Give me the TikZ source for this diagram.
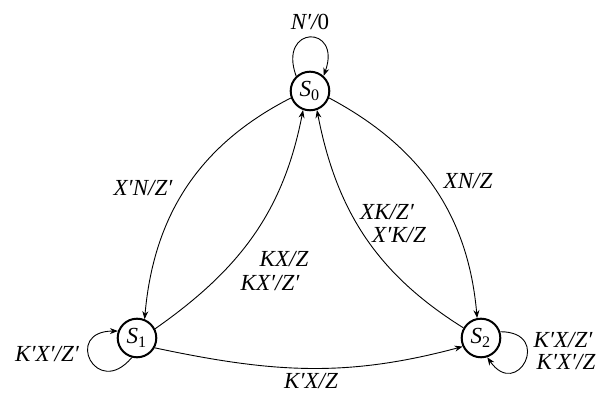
\documentclass[tikz,border=0pt]{standalone}
\usepackage{fontspec}
\setmainfont{Liberation Serif}
\usetikzlibrary{arrows.meta}

\begin{document}
\begin{tikzpicture}[x=0.5pt,y=-0.5pt,
                    font=\fontsize{11.5}{13}\selectfont\itshape,
                    fsm/.style={draw,circle,line width=1pt,minimum size=19.3pt,inner sep=0pt},
                    move/.style={-{Stealth[length=4pt,width=3pt]},line width=0.45pt},
                    lbl/.style={inner sep=0pt}]
  \useasboundingbox (0,0) rectangle (600,394);
  \node[fsm] (s0) at (310,91) {S\textsubscript{\upshape 0}};
  \node[fsm] (s1) at (137,338) {S\textsubscript{\upshape 1}};
  \node[fsm] (s2) at (481,338) {S\textsubscript{\upshape 2}};
  % transitions between the three states
  \draw[move] (s0.200) to[out=207,in=85] (s1.68);
  \draw[move] (s1.27) to[out=35,in=259] (s0.250);
  \draw[move] (s2.150) to[out=148,in=281] (s0.290);
  \draw[move] (s0.-20) to[out=-28,in=95] (s2.101);
  \draw[move] (s1.-29) to[out=-12,in=195] (s2.205);
  % self loops
  \draw[move] (s0.133) to[out=110,in=70,looseness=5.1] (s0.48);
  \draw[move] (s1.255) to[out=230,in=180,looseness=4.7] (s1.160);
  \draw[move] (s2.18) to[out=0,in=305,looseness=4.7] (s2.288);
  % labels
  \node[lbl] (l00) at (310,22) {N′/{\upshape 0}};
  \node[lbl] (l01) at (143,188) {X′N/Z′};
  \node[lbl] (l10a) at (284,259) {KX/Z};
  \node[lbl] (l10b) at (270,283) {KX′/Z′};
  \node[lbl] (l20a) at (387,212) {XK/Z′};
  \node[lbl] (l20b) at (399,235) {X′K/Z};
  \node[lbl] (l02) at (468,181) {XN/Z};
  \node[lbl] (l12) at (311,381) {K′X/Z};
  \node[lbl] (l11) at (47,354) {K′X′/Z′};
  \node[lbl] (l22a) at (563,340) {K′X/Z′};
  \node[lbl] (l22b) at (566,362) {K′X′/Z};
\end{tikzpicture}
\end{document}
